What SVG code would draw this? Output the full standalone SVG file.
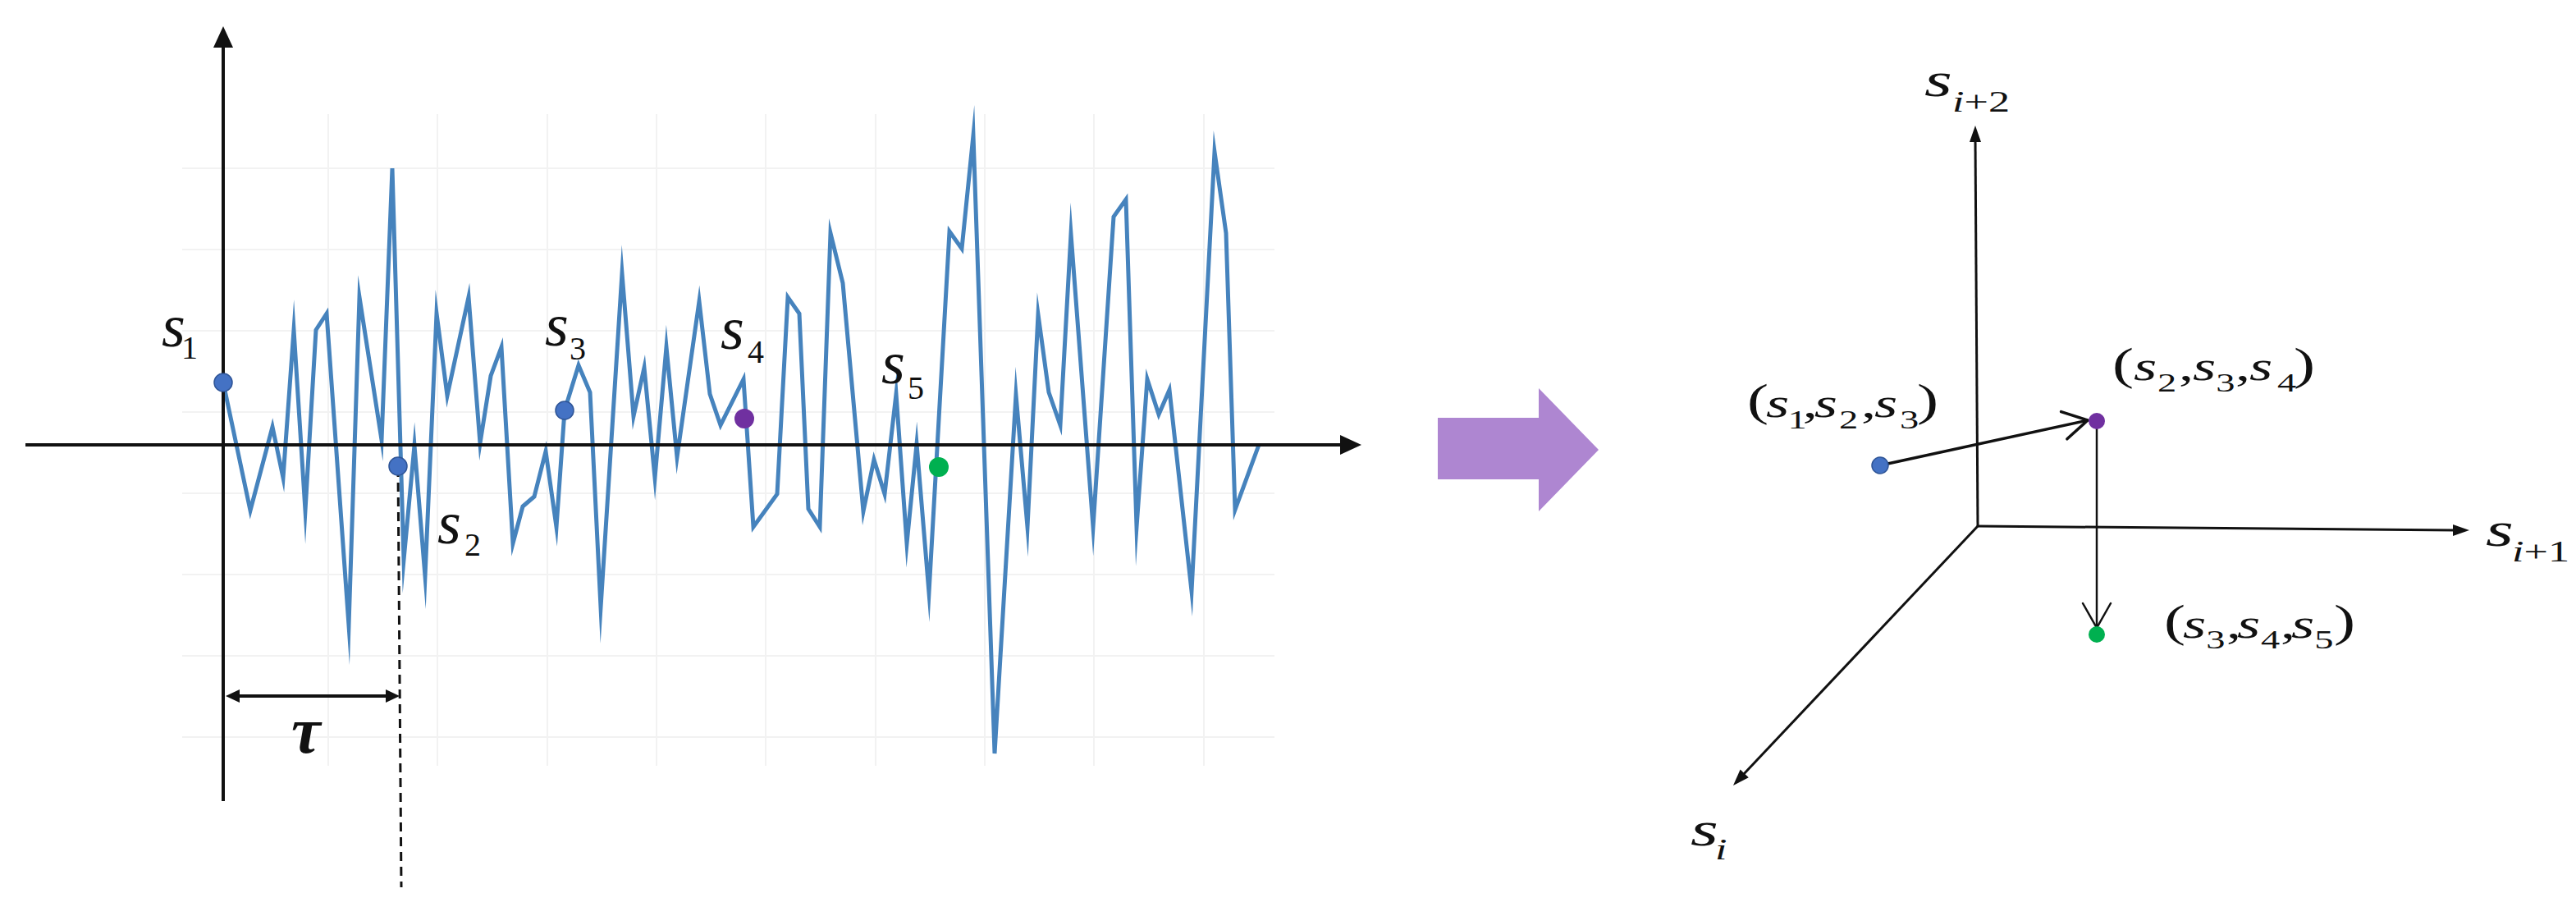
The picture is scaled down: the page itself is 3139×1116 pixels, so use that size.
<svg xmlns="http://www.w3.org/2000/svg" width="3139" height="1116" viewBox="0 0 3139 1116">
<style>
.grid{stroke:#f2f2f2;stroke-width:2;fill:none}
.axis{stroke:#111;stroke-width:4;fill:none}
.ax3{stroke:#111;stroke-width:3;fill:none}
.head{fill:#111}
.series{stroke:#4683bd;stroke-width:5;fill:none;stroke-linejoin:miter;stroke-miterlimit:20}
.blue{fill:#4472c4;stroke:#2f5597;stroke-width:1.5}
.purple{fill:#7030a0}
.green{fill:#00b050}
text{font-family:'Liberation Serif','Times New Roman',serif;fill:#111}
.it{font-style:italic}
.up{font-style:normal}
.sL{font-size:74px}
.subL{font-size:40px}
.sR{font-size:50px}
.subR{font-size:32px}
.par{font-size:54px}
.sA{font-size:60px}
.subA{font-size:36px}
</style>
<rect width="3139" height="1116" fill="#ffffff"/>

<g id="grid">
<path class="grid" d="M400,139V933M533,139V933M667,139V933M800,139V933M933,139V933M1067,139V933M1200,139V933M1333,139V933M1467,139V933"/>
<path class="grid" d="M222,205H1553M222,304H1553M222,403H1553M222,502H1553M222,601H1553M222,700H1553M222,799H1553M222,898H1553"/>
</g>

<g id="series">
<polyline class="series" points="272,466 305,622 332,520 345,582 358,402 372,622 385,402 398,382 425,762 438,362 465,536 478,205 492,682 505,543 518,702 532,382 545,482 571,362 585,540 598,458 611,423 625,662 637,617 651,605 665,550 678,642 688,500 705,445 719,478 732,740 758,333 772,507 785,448 798,582 812,423 825,557 852,367 865,480 878,518 906,462 918,642 947,602 960,362 974,382 985,620 999,642 1012,284 1027,345 1052,623 1065,560 1078,602 1092,480 1105,662 1117,541 1132,722 1157,282 1172,303 1186,165 1212,918 1238,481 1252,642 1265,383 1278,478 1292,518 1305,285 1332,642 1357,264 1372,243 1385,642 1398,462 1412,505 1425,475 1452,720 1480,185 1494,284 1505,621 1534,542"/>
</g>

<g id="connectors">
<line class="axis" x1="272" y1="976" x2="272" y2="52"/>
<polygon class="head" points="272,32 260,58 284,58"/>
<line class="axis" x1="31" y1="542" x2="1640" y2="542"/>
<polygon class="head" points="1659,542 1633,530 1633,554"/>
<line x1="485" y1="570" x2="489" y2="1081" stroke="#111" stroke-width="3" stroke-dasharray="11 7"/>
<line x1="285" y1="848" x2="475" y2="848" stroke="#111" stroke-width="4"/>
<polygon class="head" points="275,848 292,840 292,856"/>
<polygon class="head" points="487,848 470,840 470,856"/>
<polygon fill="#ae86d1" points="1752,509 1875,509 1875,473 1948,548 1875,623 1875,584 1752,584"/>
<line class="ax3" x1="2410" y1="641" x2="2407" y2="170"/>
<polygon class="head" points="2407,153 2400,173 2414,173"/>
<line class="ax3" x1="2410" y1="641" x2="2992" y2="646"/>
<polygon class="head" points="3009,646 2989,639 2989,653"/>
<line class="ax3" x1="2410" y1="641" x2="2124" y2="944"/>
<polygon class="head" points="2112,957 2130.8,947.2 2120.6,937.6"/>
<line x1="2291" y1="567" x2="2544" y2="512" stroke="#111" stroke-width="3.5"/>
<polyline points="2511.6,501.6 2544,512 2518.9,534.8" fill="none" stroke="#111" stroke-width="3.5" stroke-linecap="round" stroke-linejoin="round"/>
<line x1="2555" y1="513" x2="2555" y2="765" stroke="#111" stroke-width="2.5"/>
<polyline points="2538,735 2555,765 2572,735" fill="none" stroke="#111" stroke-width="2.5" stroke-linecap="round" stroke-linejoin="round"/>
</g>

<g id="node-s1">
<circle class="blue" cx="272" cy="466" r="11"/>
<text><tspan class="it sL" x="197" y="422">s</tspan><tspan class="subL" x="221" y="437">1</tspan></text>
</g>
<g id="node-s2">
<circle class="blue" cx="485" cy="568" r="11"/>
<text><tspan class="it sL" x="533" y="662">s</tspan><tspan class="subL" x="566" y="677">2</tspan></text>
</g>
<g id="node-s3">
<circle class="blue" cx="688" cy="500" r="11"/>
<text><tspan class="it sL" x="664" y="421">s</tspan><tspan class="subL" x="694" y="438">3</tspan></text>
</g>
<g id="node-s4">
<circle class="purple" cx="907" cy="510" r="12"/>
<text><tspan class="it sL" x="878" y="425">s</tspan><tspan class="subL" x="911" y="442">4</tspan></text>
</g>
<g id="node-s5">
<circle class="green" cx="1144" cy="569" r="12"/>
<text><tspan class="it sL" x="1074" y="467">s</tspan><tspan class="subL" x="1106" y="486">5</tspan></text>
</g>
<g id="label-tau">
<text class="it" x="355" y="917" font-size="80" font-weight="bold">τ</text>
</g>

<g id="axis-labels" transform="scale(1.45,1)">
<text><tspan class="it sA" x="1617.2" y="117">s</tspan><tspan class="subA it" x="1640.7" y="136">i</tspan><tspan class="subA up">+2</tspan></text>
<text><tspan class="it sA" x="2089" y="665">s</tspan><tspan class="subA it" x="2111" y="684">i</tspan><tspan class="subA up">+1</tspan></text>
<text><tspan class="it sA" x="1420.7" y="1030">s</tspan><tspan class="subA it" x="1441.4" y="1047">i</tspan></text>
</g>

<g id="node-p1">
<ellipse class="blue" cx="2291" cy="567" rx="10" ry="10"/>
<text transform="scale(1.45,1)"><tspan class="par" x="1468.3" y="506">(</tspan><tspan class="it sR" x="1484.1" y="508">s</tspan><tspan class="subR" x="1502.5" y="522">1</tspan><tspan class="sR" x="1515" y="508">,</tspan><tspan class="it sR" x="1524.6" y="508">s</tspan><tspan class="subR" x="1545.5" y="522">2</tspan><tspan class="sR" x="1564.1" y="508">,</tspan><tspan class="it sR" x="1575.2" y="508">s</tspan><tspan class="subR" x="1596.6" y="522">3</tspan><tspan class="par" x="1611" y="506">)</tspan></text>
</g>
<g id="node-p2">
<ellipse class="purple" cx="2555" cy="513" rx="10" ry="10"/>
<text transform="scale(1.45,1)"><tspan class="par" x="1775.2" y="462">(</tspan><tspan class="it sR" x="1793.1" y="463">s</tspan><tspan class="subR" x="1813.1" y="477">2</tspan><tspan class="sR" x="1831" y="463">,</tspan><tspan class="it sR" x="1842.8" y="463">s</tspan><tspan class="subR" x="1862.2" y="477">3</tspan><tspan class="sR" x="1878.6" y="463">,</tspan><tspan class="it sR" x="1890.3" y="463">s</tspan><tspan class="subR" x="1913.8" y="477">4</tspan><tspan class="par" x="1927.6" y="462">)</tspan></text>
</g>
<g id="node-p3">
<ellipse class="green" cx="2555" cy="773" rx="10" ry="10"/>
<text transform="scale(1.45,1)"><tspan class="par" x="1818.6" y="775">(</tspan><tspan class="it sR" x="1834.5" y="777">s</tspan><tspan class="subR" x="1854" y="790">3</tspan><tspan class="sR" x="1871" y="777">,</tspan><tspan class="it sR" x="1880" y="777">s</tspan><tspan class="subR" x="1900" y="790">4</tspan><tspan class="sR" x="1916.6" y="777">,</tspan><tspan class="it sR" x="1925.5" y="777">s</tspan><tspan class="subR" x="1945" y="790">5</tspan><tspan class="par" x="1961.4" y="775">)</tspan></text>
</g>
</svg>
